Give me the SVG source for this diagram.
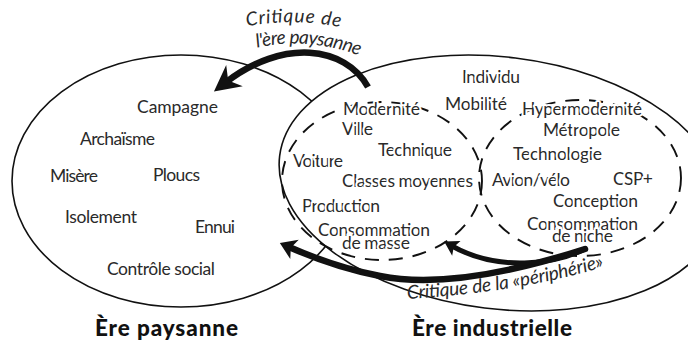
<svg xmlns="http://www.w3.org/2000/svg" width="688" height="342" viewBox="0 0 688 342">
<defs>
<style>
.lbl{font-family:Lato,"Open Sans","DejaVu Sans",sans-serif;font-size:17.5px;fill:#2a2a2a}
.halo{stroke:#fff;stroke-width:4;stroke-linejoin:round;paint-order:stroke}
.it{font-family:Lato,"Open Sans","DejaVu Sans",sans-serif;font-size:19px;font-style:italic;fill:#2a2a2a}
.ttl{font-family:Lato,"Open Sans","DejaVu Sans",sans-serif;font-size:22.5px;font-weight:900;fill:#111}
.outer{fill:#fff;stroke:#111;stroke-width:1.6}
.dash{fill:none;stroke:#111;stroke-width:1.9;stroke-dasharray:14 10}
.arr{fill:none;stroke:#111}
</style>
<marker id="hBig" markerUnits="userSpaceOnUse" orient="auto" overflow="visible" markerWidth="40" markerHeight="40" refX="0" refY="0">
<path d="M14,0 L-12,-13.5 L-4,0 L-12,13.5 Z" fill="#111"/>
</marker>
<marker id="hMid" markerUnits="userSpaceOnUse" orient="auto" overflow="visible" markerWidth="30" markerHeight="30" refX="0" refY="0">
<path d="M10,0 L-6,-10.5 L-2,0 L-6,10.5 Z" fill="#111"/>
</marker>
<marker id="hSmall" markerUnits="userSpaceOnUse" orient="auto" overflow="visible" markerWidth="30" markerHeight="30" refX="0" refY="0">
<path d="M9,0 L-5,-8.5 L-2,0 L-5,8.5 Z" fill="#111"/>
</marker>
<path id="pTop1" d="M243,27 Q293,17 344,28"/>
<path id="pTop2" d="M252,49 Q305,35 364,57"/>
<path id="pBot" d="M405,299 Q520,293 610,265"/>
</defs>

<g id="ere-paysanne">
<ellipse class="outer" cx="181" cy="181" rx="169" ry="126"/>
</g>
<g id="ere-industrielle">
<ellipse class="outer" cx="500" cy="183" rx="222" ry="126" transform="rotate(7 500 183)"/>
</g>
<g id="modernite">
<ellipse class="dash" cx="382" cy="181" rx="100" ry="79"/>
</g>
<g id="hypermodernite">
<ellipse class="dash" cx="580" cy="178" rx="101" ry="78"/>
</g>

<g id="labels-paysanne">
<text class="lbl" x="137" y="113" textLength="81">Campagne</text>
<text class="lbl" x="80" y="145" textLength="75">Archaïsme</text>
<text class="lbl" x="50" y="182" textLength="48">Misère</text>
<text class="lbl" x="153" y="181" textLength="47">Ploucs</text>
<text class="lbl" x="65" y="223" textLength="72">Isolement</text>
<text class="lbl" x="195" y="233" textLength="40">Ennui</text>
<text class="lbl" x="107" y="275" textLength="108">Contrôle social</text>
</g>
<g id="labels-industrielle">
<text class="lbl halo" x="462" y="83" textLength="58">Individu</text>
<text class="lbl halo" x="445" y="110" textLength="62">Mobilité</text>
<text class="lbl halo" x="343" y="115" textLength="77">Modernité</text>
<text class="lbl halo" x="522" y="115" textLength="120">Hypermodernité</text>
<text class="lbl halo" x="342" y="135" textLength="31">Ville</text>
<text class="lbl halo" x="543" y="136" textLength="77">Métropole</text>
<text class="lbl halo" x="378" y="156" textLength="74">Technique</text>
<text class="lbl halo" x="513" y="160" textLength="89">Technologie</text>
<text class="lbl halo" x="293" y="167" textLength="50">Voiture</text>
<text class="lbl halo" x="342" y="187" textLength="131">Classes moyennes</text>
<text class="lbl halo" x="492" y="186" textLength="78">Avion/vélo</text>
<text class="lbl halo" x="613" y="185" textLength="40">CSP+</text>
<text class="lbl halo" x="302" y="212" textLength="78">Production</text>
<text class="lbl halo" x="553" y="207" textLength="85">Conception</text>
<text class="lbl halo" x="318" y="236" textLength="112">Consommation</text>
<text class="lbl halo" x="342" y="249" textLength="68">de masse</text>
<text class="lbl halo" x="527" y="230" textLength="111">Consommation</text>
<text class="lbl halo" x="552" y="242" textLength="61">de niche</text>
</g>
<g id="titles">
<text class="ttl" x="95" y="336" textLength="143">Ère paysanne</text>
<text class="ttl" x="412" y="336" textLength="160">Ère industrielle</text>
</g>

<g id="connectors">
<path class="arr" stroke-width="6.5" d="M368,87 C345,46 283,38 225,83" marker-end="url(#hBig)"/>
<path class="arr" stroke-width="6.5" stroke-linecap="round" d="M585,249 C520,270 440,288 380,276 C343,269 314,258 289,247" marker-end="url(#hMid)"/>
<path class="arr" stroke-width="5" stroke-linecap="round" d="M585,249 C555,264 498,272 452,246" marker-end="url(#hSmall)"/>
<text class="it"><textPath href="#pTop1" startOffset="50%" text-anchor="middle" textLength="94">Critique de</textPath></text>
<text class="it"><textPath href="#pTop2" startOffset="50%" text-anchor="middle" textLength="104">l'ère paysanne</textPath></text>
<text class="it"><textPath href="#pBot" startOffset="2" textLength="200">Critique de la «périphérie»</textPath></text>
</g>
</svg>
